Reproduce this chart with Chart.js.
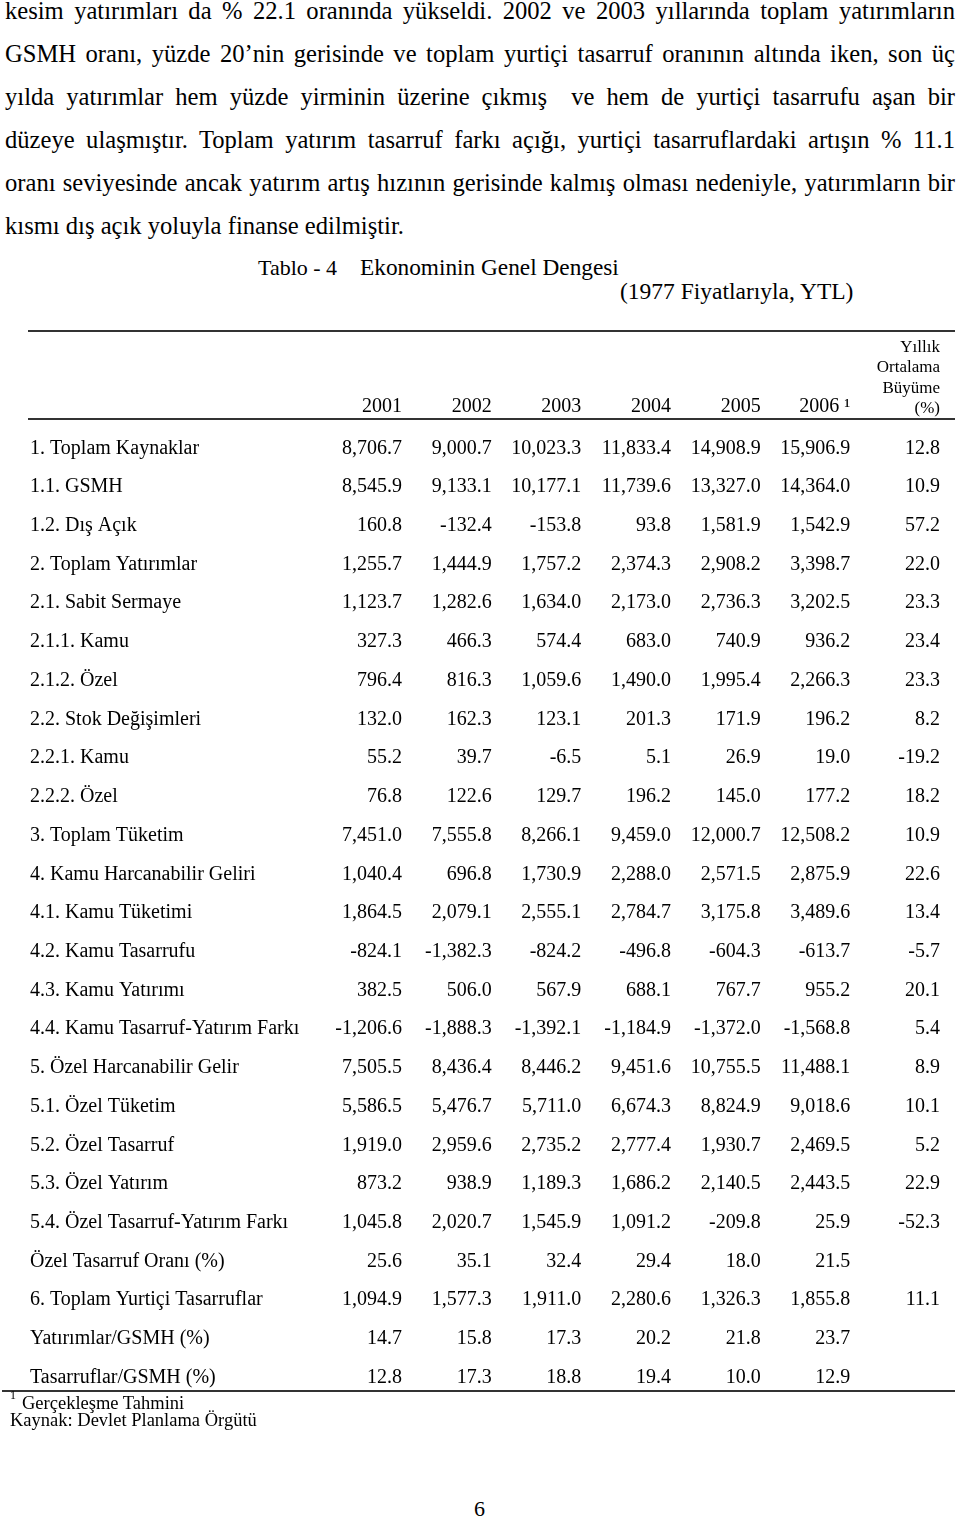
<!DOCTYPE html>
<html lang="tr">
<head>
<meta charset="UTF-8">
<title>Tablo - 4 Ekonominin Genel Dengesi</title>
<script src="https://cdn.jsdelivr.net/npm/chart.js"></script>
<style>
  body { margin: 0; background: #fff; }
  .page { position: relative; width: 960px; height: 1518px; overflow: hidden;
          font-family: "Liberation Serif", "Times New Roman", serif; color: #000; }
  .para { position: absolute; left: 5px; top: -10.8px; width: 950px; font-size: 24.6px; line-height: 43px; }
  .para div { text-align: justify; text-align-last: justify; white-space: nowrap; }
  .para div.last { text-align-last: left; }
  .abs { position: absolute; line-height: 1; white-space: nowrap; }
  #table { position: absolute; left: 0; top: 330px; }
</style>
</head>
<body>
<div class="page">
  <div class="para">
    <div>kesim yatırımları da % 22.1 oranında yükseldi. 2002 ve 2003 yıllarında toplam yatırımların</div>
    <div>GSMH oranı, yüzde 20’nin gerisinde ve toplam yurtiçi tasarruf oranının altında iken, son üç</div>
    <div>yılda yatırımlar hem yüzde yirminin üzerine çıkmış&nbsp; ve hem de yurtiçi tasarrufu aşan bir</div>
    <div>düzeye ulaşmıştır. Toplam yatırım tasarruf farkı açığı, yurtiçi tasarruflardaki artışın % 11.1</div>
    <div>oranı seviyesinde ancak yatırım artış hızının gerisinde kalmış olması nedeniyle, yatırımların bir</div>
    <div class="last">kısmı dış açık yoluyla finanse edilmiştir.</div>
  </div>

  <div class="abs" style="left:258px; top:257px; font-size:22px;">Tablo - 4</div>
  <div class="abs" style="left:360px; top:256px; font-size:23.3px;">Ekonominin Genel Dengesi</div>
  <div class="abs" style="left:620px; top:280px; font-size:23.5px;">(1977 Fiyatlarıyla, YTL)</div>

  <canvas id="table" width="960" height="1067"></canvas>

  <div class="abs" style="left:10px; top:1389px; font-size:12px;">1</div>
  <div class="abs" style="left:22px; top:1393.5px; font-size:18.5px;">Gerçekleşme Tahmini</div>
  <div class="abs" style="left:10px; top:1410.5px; font-size:18.5px;">Kaynak: Devlet Planlama Örgütü</div>
  <div class="abs" style="left:474px; top:1497.6px; font-size:22px;">6</div>
</div>

<script>
// table rows (y axis) and columns (x axis)
const rowLabels = [
  '1. Toplam Kaynaklar', '1.1. GSMH', '1.2. Dış Açık',
  '2. Toplam Yatırımlar', '2.1. Sabit Sermaye', '2.1.1. Kamu', '2.1.2. Özel',
  '2.2. Stok Değişimleri', '2.2.1. Kamu', '2.2.2. Özel',
  '3. Toplam Tüketim',
  '4. Kamu Harcanabilir Geliri', '4.1. Kamu Tüketimi', '4.2. Kamu Tasarrufu',
  '4.3. Kamu Yatırımı', '4.4. Kamu Tasarruf-Yatırım Farkı',
  '5. Özel Harcanabilir Gelir', '5.1. Özel Tüketim', '5.2. Özel Tasarruf',
  '5.3. Özel Yatırım', '5.4. Özel Tasarruf-Yatırım Farkı',
  'Özel Tasarruf Oranı (%)', '6. Toplam Yurtiçi Tasarruflar',
  'Yatırımlar/GSMH (%)', 'Tasarruflar/GSMH (%)'
];
const growthHeader = 'Yıllık Ortalama Büyüme (%)';
const colLabels = ['2001', '2002', '2003', '2004', '2005', '2006\u00a0¹', growthHeader];

const y2001 = [8706.7, 8545.9, 160.8, 1255.7, 1123.7, 327.3, 796.4, 132.0, 55.2, 76.8, 7451.0,
  1040.4, 1864.5, -824.1, 382.5, -1206.6, 7505.5, 5586.5, 1919.0, 873.2, 1045.8, 25.6, 1094.9, 14.7, 12.8];
const y2002 = [9000.7, 9133.1, -132.4, 1444.9, 1282.6, 466.3, 816.3, 162.3, 39.7, 122.6, 7555.8,
  696.8, 2079.1, -1382.3, 506.0, -1888.3, 8436.4, 5476.7, 2959.6, 938.9, 2020.7, 35.1, 1577.3, 15.8, 17.3];
const y2003 = [10023.3, 10177.1, -153.8, 1757.2, 1634.0, 574.4, 1059.6, 123.1, -6.5, 129.7, 8266.1,
  1730.9, 2555.1, -824.2, 567.9, -1392.1, 8446.2, 5711.0, 2735.2, 1189.3, 1545.9, 32.4, 1911.0, 17.3, 18.8];
const y2004 = [11833.4, 11739.6, 93.8, 2374.3, 2173.0, 683.0, 1490.0, 201.3, 5.1, 196.2, 9459.0,
  2288.0, 2784.7, -496.8, 688.1, -1184.9, 9451.6, 6674.3, 2777.4, 1686.2, 1091.2, 29.4, 2280.6, 20.2, 19.4];
const y2005 = [14908.9, 13327.0, 1581.9, 2908.2, 2736.3, 740.9, 1995.4, 171.9, 26.9, 145.0, 12000.7,
  2571.5, 3175.8, -604.3, 767.7, -1372.0, 10755.5, 8824.9, 1930.7, 2140.5, -209.8, 18.0, 1326.3, 21.8, 10.0];
const y2006 = [15906.9, 14364.0, 1542.9, 3398.7, 3202.5, 936.2, 2266.3, 196.2, 19.0, 177.2, 12508.2,
  2875.9, 3489.6, -613.7, 955.2, -1568.8, 11488.1, 9018.6, 2469.5, 2443.5, 25.9, 21.5, 1855.8, 23.7, 12.9];
const growth = [12.8, 10.9, 57.2, 22.0, 23.3, 23.4, 23.3, 8.2, -19.2, 18.2, 10.9,
  22.6, 13.4, -5.7, 20.1, 5.4, 8.9, 10.1, 5.2, 22.9, -52.3, null, 11.1, null, null];

const columns = [y2001, y2002, y2003, y2004, y2005, y2006, growth];

const fmt = v => v.toLocaleString('en-US', { minimumFractionDigits: 1, maximumFractionDigits: 1 });

// one dataset per column, a point per cell; the value text is drawn at the point
const datasets = columns.map((vals, c) => ({
  label: colLabels[c],
  data: vals.map((v, r) => v === null ? null : { x: colLabels[c], y: rowLabels[r], v: v }).filter(Boolean),
  showLine: false,
  pointRadius: 0,
  pointHoverRadius: 0
}));

const cellText = {
  id: 'cellText',
  afterDatasetsDraw(chart) {
    const ctx = chart.ctx;
    ctx.save();
    ctx.font = '20px "Liberation Serif", "Times New Roman", serif';
    ctx.fillStyle = '#000';
    ctx.textAlign = 'right';
    ctx.textBaseline = 'middle';
    chart.data.datasets.forEach((ds, d) => {
      chart.getDatasetMeta(d).data.forEach((pt, i) => {
        ctx.fillText(fmt(ds.data[i].v), pt.x, pt.y);
      });
    });
    ctx.restore();
  }
};

// table rules: top, under the header, bottom
const rules = {
  id: 'rules',
  afterDraw(chart) {
    const { ctx, chartArea, scales } = chart;
    ctx.save();
    ctx.strokeStyle = '#333';
    ctx.lineWidth = 2;
    [[scales.x.top + 1, 28], [chartArea.top - 10, 28], [chartArea.bottom - 6, 2]].forEach(([y, x0]) => {
      ctx.beginPath();
      ctx.moveTo(x0, y);
      ctx.lineTo(955, y);
      ctx.stroke();
    });
    ctx.restore();
  }
};

Chart.defaults.font.family = '"Liberation Serif", "Times New Roman", serif';
Chart.defaults.color = '#000';

new Chart(document.getElementById('table'), {
  type: 'line',
  data: { datasets: datasets },
  options: {
    responsive: false,
    animation: false,
    events: [],
    layout: { padding: { left: 30, right: 20, top: 0, bottom: 0 } },
    plugins: { legend: { display: false }, tooltip: { enabled: false } },
    scales: {
      x: {
        type: 'category',
        labels: colLabels,
        position: 'top',
        offset: false,
        grid: { display: false, drawTicks: false },
        border: { display: false },
        ticks: {
          align: 'end',
          padding: 10,
          autoSkip: false,
          maxRotation: 0,
          font: ctx => ctx.index === colLabels.length - 1 ? { size: 17 } : { size: 20 },
          callback: function (v) {
            const s = this.getLabelForValue(v);
            return s === growthHeader ? s.split(' ') : s;
          }
        },
        afterFit: s => { s.height = 99; s.paddingLeft = 0; s.paddingRight = 0; }
      },
      y: {
        type: 'category',
        labels: rowLabels,
        offset: true,
        grid: { display: false, drawTicks: false },
        border: { display: false },
        ticks: { crossAlign: 'far', padding: 0, autoSkip: false, font: { size: 20 } },
        afterFit: s => { s.width = 372; s.paddingTop = 0; s.paddingBottom = 0; }
      }
    }
  },
  plugins: [cellText, rules]
});
</script>
</body>
</html>
